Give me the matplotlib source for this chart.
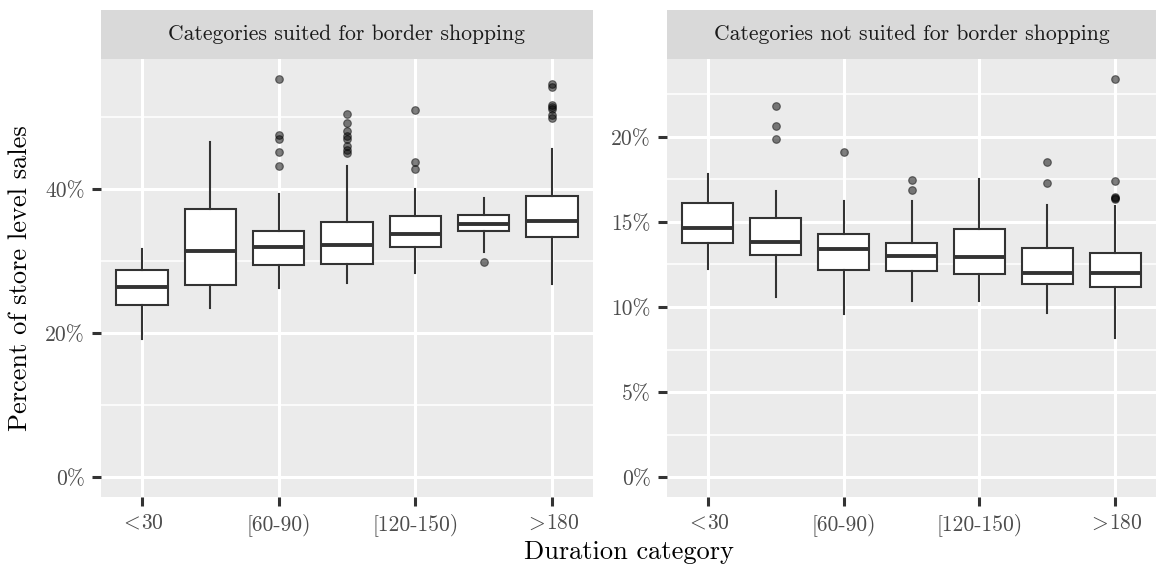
import matplotlib
matplotlib.use("Agg")
import matplotlib.pyplot as plt
from matplotlib.ticker import FixedLocator, FuncFormatter

plt.rcParams['font.family'] = ['cmr10', 'DejaVu Serif']
plt.rcParams['mathtext.fontset'] = 'cm'
plt.rcParams['axes.formatter.use_mathtext'] = True

# ---------------- data ----------------
categories = ['<30', '[30-60)', '[60-90)', '[90-120)', '[120-150)', '[150-180)', '>180']
tick_labels = [r'$<\!$30', '[60-90)', '[120-150)', r'$>\!$180']
tick_positions = [0, 2, 4, 6]
panel_titles = ['Categories suited for border shopping',
                'Categories not suited for border shopping']

# Panel 1: suited for border shopping (percent)
L_whislo = [19.1, 23.4, 26.2, 26.9, 28.3, 31.2, 26.8]
L_q1 = [23.9, 26.6, 29.5, 29.6, 32.0, 34.1, 33.3]
L_med = [26.4, 31.4, 31.9, 32.2, 33.8, 35.1, 35.5]
L_q3 = [28.8, 37.2, 34.1, 35.4, 36.2, 36.4, 39.0]
L_whishi = [31.7, 46.5, 39.3, 43.2, 40.0, 38.7, 45.6]
L_fliers = [[], [], [55.3, 47.5, 47.0, 45.2, 43.2],
            [50.4, 49.1, 48.1, 47.3, 46.9, 46.0, 45.4, 45.0],
            [50.9, 43.75, 42.8], [29.9],
            [54.6, 54.2, 51.6, 51.4, 51.1, 50.3, 49.9]]

# Panel 2: not suited for border shopping (percent)
R_whislo = [12.25, 10.61, 9.57, 10.37, 10.37, 9.63, 8.16]
R_q1 = [13.78, 13.04, 12.16, 12.14, 11.92, 11.35, 11.16]
R_med = [14.63, 13.84, 13.39, 12.98, 12.92, 12.0, 11.98]
R_q3 = [16.14, 15.25, 14.29, 13.78, 14.57, 13.49, 13.18]
R_whishi = [17.84, 16.82, 16.24, 16.24, 17.53, 15.98, 15.92]
R_fliers = [[], [21.82, 20.65, 19.86], [19.12], [17.45, 16.88], [],
            [18.55, 17.31], [23.41, 17.43, 16.49, 16.42, 16.34]]

L_major = [0, 20, 40]
L_minor = [10, 30, 50]
R_major = [0, 5, 10, 15, 20]
R_minor = [2.5, 7.5, 12.5, 17.5, 22.5]

# ---------------- figure ----------------
W, H = 1156, 569
fig = plt.figure(figsize=(W / 100, H / 100), dpi=100)

def fx(px):
    return px / W

def fy(py):
    return 1 - py / H

panels = [
    dict(x0=101, x1=593, whislo=L_whislo, q1=L_q1, med=L_med, q3=L_q3, whishi=L_whishi,
         fliers=L_fliers, major=L_major, minor=L_minor, ylim=(-2.78, 58.05)),
    dict(x0=667, x1=1156, whislo=R_whislo, q1=R_q1, med=R_med, q3=R_q3, whishi=R_whishi,
         fliers=R_fliers, major=R_major, minor=R_minor, ylim=(-1.17, 24.58)),
]

ptop, pbot, stop = 59, 497, 10
dark = '#333333'

for p, title in zip(panels, panel_titles):
    ax = fig.add_axes([fx(p['x0']), fy(pbot), fx(p['x1'] - p['x0']), (pbot - ptop) / H])
    ax.set_facecolor('#EBEBEB')
    for s in ax.spines.values():
        s.set_visible(False)
    ax.set_axisbelow(True)

    stats = []
    for i in range(len(categories)):
        stats.append(dict(med=p['med'][i], q1=p['q1'][i], q3=p['q3'][i],
                          whislo=p['whislo'][i], whishi=p['whishi'][i],
                          fliers=p['fliers'][i], label=categories[i]))
    ax.bxp(stats, positions=list(range(len(categories))), widths=0.75,
           patch_artist=True, showcaps=False,
           boxprops=dict(facecolor='white', edgecolor=dark, linewidth=1.5),
           medianprops=dict(color=dark, linewidth=2.8, solid_capstyle='butt'),
           whiskerprops=dict(color=dark, linewidth=1.5),
           flierprops=dict(marker='o', markerfacecolor='black', markeredgecolor='black',
                           alpha=0.5, markersize=5.5, markeredgewidth=0.8, linestyle='none'))

    ax.set_xlim(-0.6, 6.6)
    ax.set_ylim(*p['ylim'])
    ax.xaxis.set_major_locator(FixedLocator(tick_positions))
    ax.set_xticklabels(tick_labels)
    ax.yaxis.set_major_locator(FixedLocator(p['major']))
    ax.yaxis.set_minor_locator(FixedLocator(p['minor']))
    ax.yaxis.set_major_formatter(FuncFormatter(lambda v, pos: f'{v:g}%'))

    ax.grid(True, which='major', axis='both', color='white', linewidth=2.2)
    ax.grid(True, which='minor', axis='y', color='white', linewidth=1.1)
    ax.tick_params(axis='both', which='major', length=6.5, width=2.2, color=dark,
                   labelsize=15.5, labelcolor='#4D4D4D', pad=5)
    ax.tick_params(axis='y', which='minor', length=0)

    sax = fig.add_axes([fx(p['x0']), fy(ptop), fx(p['x1'] - p['x0']), (ptop - stop) / H])
    sax.set_facecolor('#D9D9D9')
    for s in sax.spines.values():
        s.set_visible(False)
    sax.set_xticks([])
    sax.set_yticks([])
    sax.text(0.5, 0.5, title, ha='center', va='center', fontsize=15.6, color='#1A1A1A',
             transform=sax.transAxes)

fig.text(fx(628.5), fy(552), 'Duration category', ha='center', va='center', fontsize=19)
fig.text(fx(20), fy(278), 'Percent of store level sales', ha='center', va='center',
         rotation=90, fontsize=19)

fig.savefig('out.png', dpi=100)
